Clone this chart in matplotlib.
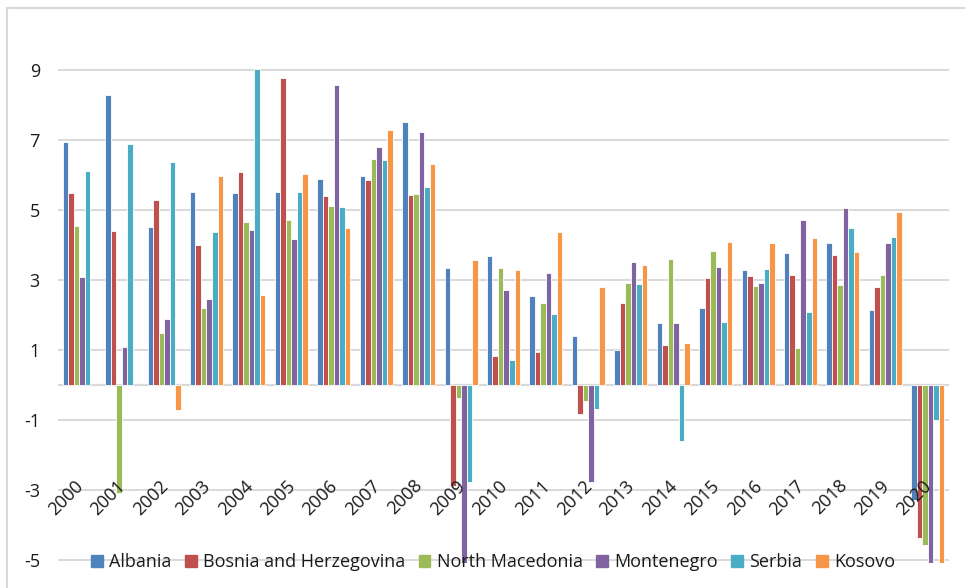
import matplotlib.pyplot as plt
import matplotlib.patches as mpatches
import numpy as np

plt.rcParams['font.family'] = ['Open Sans', 'DejaVu Sans']
plt.rcParams['axes.unicode_minus'] = False

years = [str(y) for y in range(2000, 2021)]
countries = ['Albania', 'Bosnia and Herzegovina', 'North Macedonia', 'Montenegro', 'Serbia', 'Kosovo']
colors = ['#4F81BD', '#C0504D', '#9BBB59', '#8064A2', '#4BACC6', '#F79646']

albania = [6.95, 8.29, 4.52, 5.51, 5.49, 5.51, 5.89, 5.97, 7.5, 3.33, 3.69,
           2.54, 1.39, 0.99, 1.77, 2.2, 3.29, 3.78, 4.05, 2.15, -3.3]
bosnia = [5.49, 4.39, 5.29, 4.0, 6.09, 8.76, 5.4, 5.86, 5.43, -2.9, 0.84,
          0.95, -0.84, 2.33, 1.14, 3.07, 3.12, 3.15, 3.71, 2.81, -4.37]
macedonia = [4.54, -3.08, 1.48, 2.2, 4.66, 4.7, 5.12, 6.47, 5.47, -0.38, 3.33,
             2.33, -0.47, 2.91, 3.61, 3.84, 2.83, 1.06, 2.86, 3.15, -4.58]
montenegro = [3.08, 1.08, 1.89, 2.47, 4.42, 4.17, 8.57, 6.81, 7.22, -5.8, 2.71,
              3.21, -2.77, 3.52, 1.78, 3.37, 2.92, 4.7, 5.07, 4.05, -15.3]
serbia = [6.12, 6.89, 6.36, 4.37, 9.03, 5.51, 5.09, 6.43, 5.65, -2.77, 0.71,
          2.03, -0.7, 2.89, -1.61, 1.79, 3.31, 2.09, 4.48, 4.23, -1.01]
kosovo = [np.nan, np.nan, -0.72, 5.97, 2.58, 6.03, 4.49, 7.29, 6.31, 3.58, 3.29,
          4.36, 2.79, 3.42, 1.21, 4.08, 4.05, 4.21, 3.79, 4.93, -5.3]

series = [albania, bosnia, macedonia, montenegro, serbia, kosovo]

fig = plt.figure(figsize=(9.65, 5.88), dpi=100)
ax = fig.add_axes([0.0601, 0.0417, 0.9233, 0.9345])

x = np.arange(len(years))
w = 0.13
for k, (vals, c, name) in enumerate(zip(series, colors, countries)):
    ax.bar(x + (k - 2.5) * w, vals, width=w, color=c, edgecolor='white',
           linewidth=0.6, label=name, zorder=3)

ax.set_xlim(-0.5, len(years) - 0.5)
ax.set_ylim(-5.1, 10.6)
ax.set_yticks([-5, -3, -1, 1, 3, 5, 7, 9])
ax.yaxis.grid(True, color='#D9D9D9', linewidth=1.4, zorder=0)
ax.axhline(0, color='#D9D9D9', linewidth=1.6, zorder=1)
ax.set_axisbelow(True)
for s in ax.spines.values():
    s.set_visible(False)
ax.set_xticks([])
ax.tick_params(axis='y', length=0, pad=13, labelsize=13, labelcolor='#1a1a1a')

# year labels sit around -3, rotated like the original
for i, yr in enumerate(years):
    ax.text(i + 0.03, -2.8, yr, rotation=45, rotation_mode='anchor',
            ha='right', va='center', fontsize=13, color='#1a1a1a', zorder=5)

handles = [mpatches.Patch(color=c, label=n) for c, n in zip(colors, countries)]
fig.legend(handles=handles, loc='center', bbox_to_anchor=(493 / 965, 1 - 562 / 588),
           ncol=6, frameon=False, fontsize=13, handlelength=0.65, handleheight=0.65,
           handletextpad=0.35, columnspacing=0.75, borderaxespad=0, borderpad=0,
           labelcolor='#1a1a1a')

# light chart border
fig.patches.append(mpatches.Rectangle((7 / 965, -0.1), 1.1, 1 - 8 / 588 + 0.1,
                                      transform=fig.transFigure, fill=False,
                                      edgecolor='#D9D9D9', linewidth=1.5))

fig.savefig('out.png', dpi=100)
